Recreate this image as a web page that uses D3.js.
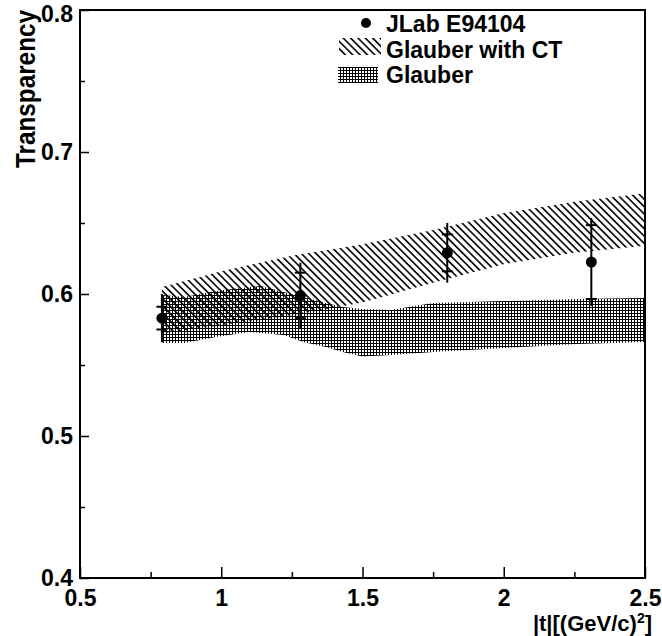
<!DOCTYPE html>
<html>
<head>
<meta charset="utf-8">
<script src="https://cdn.jsdelivr.net/npm/d3@7"></script>
<style>
  body { margin: 0; background: #fff; }
  text { font-family: "Liberation Sans", Arial, Helvetica, sans-serif; font-weight: bold; fill: #000; }
</style>
</head>
<body>
<svg id="chart" width="662" height="636"></svg>
<script>
// JLab E94104 data points
const tData = [0.79, 1.28, 1.80, 2.31];
const transparency = [0.583, 0.599, 0.629, 0.6225];
const statErr = [0.008, 0.016, 0.013, 0.026];
const totalErr = [0.017, 0.023, 0.021, 0.031];

// Glauber with CT band
const ctT = [0.79, 1.0, 1.25, 1.5, 1.75, 2.0, 2.25, 2.5];
const ctLow = [0.572, 0.578, 0.585, 0.594, 0.608, 0.621, 0.629, 0.634];
const ctHigh = [0.605, 0.616, 0.627, 0.635, 0.645, 0.657, 0.665, 0.671];

// Glauber band
const glT = [0.79, 0.87, 0.98, 1.1, 1.14, 1.22, 1.29, 1.37, 1.43, 1.5, 1.6, 1.75, 2.0, 2.26, 2.5];
const glLow = [0.5655, 0.5655, 0.5697, 0.5732, 0.5725, 0.5711, 0.5662, 0.5627, 0.5592, 0.556, 0.557, 0.5592, 0.562, 0.5648, 0.5662];
const glHigh = [0.5993, 0.5979, 0.6021, 0.6049, 0.6056, 0.6014, 0.5979, 0.5937, 0.5908, 0.5895, 0.5887, 0.5937, 0.595, 0.5965, 0.5972];

const xTicks = [0.5, 1, 1.5, 2, 2.5];
const xMinor = [0.75, 1.25, 1.75, 2.25];
const yTicks = [0.4, 0.5, 0.6, 0.7, 0.8];
const yMinor = [0.45, 0.55, 0.65, 0.75];
const legendLabels = ["JLab E94104", "Glauber with CT", "Glauber"];

const svg = d3.select("#chart");
const plotLeft = 80, plotRight = 645, plotTop = 10, plotBottom = 578;

const x = d3.scaleLinear().domain([0.5, 2.5]).range([plotLeft, plotRight]);
const y = d3.scaleLinear().domain([0.4, 0.8]).range([plotBottom, plotTop]);

const defs = svg.append("defs");
const hatch = defs.append("pattern")
  .attr("id", "hatchCT")
  .attr("patternUnits", "userSpaceOnUse")
  .attr("width", 10).attr("height", 5.2)
  .attr("patternTransform", "rotate(45)");
hatch.append("line")
  .attr("x1", 0).attr("x2", 10).attr("y1", 2.6).attr("y2", 2.6)
  .attr("stroke", "#000").attr("stroke-width", 1.6);

const cross = defs.append("pattern")
  .attr("id", "crossG")
  .attr("patternUnits", "userSpaceOnUse")
  .attr("width", 3).attr("height", 3);
cross.append("rect")
  .attr("x", 0).attr("y", 1).attr("width", 3).attr("height", 1)
  .attr("fill", "#000");
cross.append("rect")
  .attr("x", 1).attr("y", 0).attr("width", 1).attr("height", 3)
  .attr("fill", "#000");

// bands
const ctArea = d3.area()
  .x((d, i) => x(ctT[i]))
  .y0((d, i) => y(ctLow[i]))
  .y1((d, i) => y(ctHigh[i]));
svg.append("path")
  .attr("d", ctArea(ctT))
  .attr("fill", "url(#hatchCT)");

const glArea = d3.area()
  .x((d, i) => x(glT[i]))
  .y0((d, i) => y(glLow[i]))
  .y1((d, i) => y(glHigh[i]));
svg.append("path")
  .attr("d", glArea(glT))
  .attr("fill", "url(#crossG)");

// axes
function squeeze(sel, k) {
  sel.each(function () {
    const w = this.getComputedTextLength();
    d3.select(this).attr("textLength", w * k).attr("lengthAdjust", "spacingAndGlyphs");
  });
}

const gx = svg.append("g")
  .attr("transform", `translate(0,${plotBottom})`)
  .call(d3.axisBottom(x).tickValues(xTicks).tickSize(-11).tickPadding(12).tickFormat(d3.format("")));
gx.attr("font-size", 23).attr("font-family", null);
gx.select(".domain").remove();
gx.selectAll("line").attr("stroke-width", 1.5);

svg.append("g")
  .attr("transform", `translate(0,${plotBottom})`)
  .call(d3.axisBottom(x).tickValues(xMinor).tickSize(-6).tickFormat(""))
  .call(g => g.select(".domain").remove())
  .selectAll("line").attr("stroke-width", 1.5);

const gy = svg.append("g")
  .attr("transform", `translate(${plotLeft},0)`)
  .call(d3.axisLeft(y).tickValues(yTicks).tickSize(-9).tickPadding(7).tickFormat(d3.format("")));
gy.attr("font-size", 23).attr("font-family", null);
gy.select(".domain").remove();
gy.selectAll("line").attr("stroke-width", 1.5);
gy.selectAll(".tick").filter(d => d === 0.8).select("text").attr("dy", "0.5em");

svg.append("g")
  .attr("transform", `translate(${plotLeft},0)`)
  .call(d3.axisLeft(y).tickValues(yMinor).tickSize(-5).tickFormat(""))
  .call(g => g.select(".domain").remove())
  .selectAll("line").attr("stroke-width", 1.5);

// frame
svg.append("rect")
  .attr("x", plotLeft).attr("y", plotTop)
  .attr("width", plotRight - plotLeft).attr("height", plotBottom - plotTop)
  .attr("fill", "none").attr("stroke", "#000").attr("stroke-width", 2);

// axis titles
const yTitle = svg.append("text")
  .attr("transform", "translate(35,10) rotate(-90)")
  .attr("text-anchor", "end")
  .attr("font-size", 27)
  .text("Transparency");
squeeze(yTitle, 0.9);

const xTitle = svg.append("text")
  .attr("x", 652).attr("y", 631)
  .attr("text-anchor", "end")
  .attr("font-size", 22);
xTitle.append("tspan").text("|t|[(GeV/c)");
xTitle.append("tspan").attr("font-size", 14).attr("dy", -8).text("2");
xTitle.append("tspan").attr("dy", 8).text("]");

// data points with error bars
const pts = svg.append("g");
tData.forEach((t, i) => {
  const cx = x(t);
  pts.append("line")
    .attr("x1", cx).attr("x2", cx)
    .attr("y1", y(transparency[i] + totalErr[i]))
    .attr("y2", y(transparency[i] - totalErr[i]))
    .attr("stroke", "#000").attr("stroke-width", 2);
  [statErr[i], -statErr[i]].forEach(e => {
    pts.append("line")
      .attr("x1", cx - 5.5).attr("x2", cx + 5.5)
      .attr("y1", y(transparency[i] + e)).attr("y2", y(transparency[i] + e))
      .attr("stroke", "#000").attr("stroke-width", 2);
  });
  pts.append("circle")
    .attr("cx", cx).attr("cy", y(transparency[i]))
    .attr("r", 5.5).attr("fill", "#000");
});

// legend
const lg = svg.append("g");
lg.append("circle").attr("cx", 366).attr("cy", 23).attr("r", 5).attr("fill", "#000");
lg.append("rect").attr("x", 339).attr("y", 38).attr("width", 42).attr("height", 17).attr("fill", "url(#hatchCT)");
lg.append("rect").attr("x", 338).attr("y", 67).attr("width", 40).attr("height", 16).attr("fill", "url(#crossG)");
legendLabels.forEach((lab, i) => {
  lg.append("text")
    .attr("x", 386).attr("y", 32 + i * 25.5)
    .attr("font-size", 23)
    .text(lab);
});
</script>
</body>
</html>
